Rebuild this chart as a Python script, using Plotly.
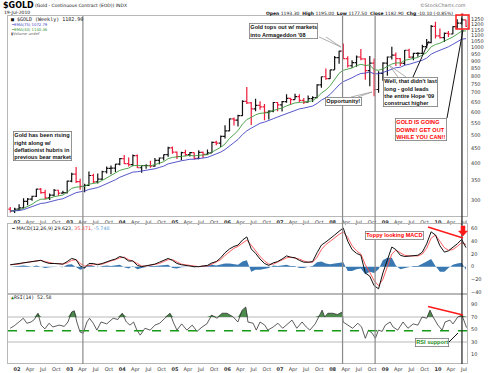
import plotly.graph_objects as go
import math

# ---------------- data ----------------
months = [f"{y}-{m:02d}-15" for y in range(2001, 2011) for m in range(1, 13)
          if (2001, 11) <= (y, m) <= (2010, 7)]

price_open = [279, 275,
    279, 282, 297, 302, 309, 327, 318, 305, 312, 324, 317, 318,
    348, 368, 347, 334, 337, 364, 346, 354, 375, 385, 386, 398,
    416, 400, 397, 426, 387, 394, 394, 392, 410, 418, 429, 453,
    438, 423, 436, 429, 436, 417, 437, 430, 435, 473, 470, 496,
    518, 569, 564, 584, 654, 646, 616, 633, 626, 599, 605, 648,
    636, 652, 669, 663, 679, 659, 650, 668, 673, 745, 794, 783,
    838, 924, 972, 917, 866, 888, 928, 914, 834, 884, 718, 816,
    884, 928, 942, 917, 883, 979, 927, 955, 955, 1008, 1040, 1182,
    1096, 1082, 1118, 1113, 1180, 1213, 1244]
price_high = [284, 282,
    290, 304, 305, 310, 328, 330, 325, 316, 327, 325, 323, 349,
    372, 389, 355, 341, 376, 369, 370, 378, 391, 394, 399, 418,
    428, 420, 430, 430, 395, 398, 409, 418, 420, 430, 457, 458,
    440, 439, 446, 438, 437, 444, 440, 447, 476, 479, 499, 541,
    571, 576, 588, 660, 732, 650, 668, 655, 640, 610, 650, 650,
    656, 691, 673, 695, 692, 672, 685, 681, 749, 795, 848, 840,
    935, 976, 1033, 933, 905, 939, 989, 919, 935, 918, 829, 890,
    932, 1007, 961, 919, 981, 990, 960, 963, 1023, 1070, 1195, 1227,
    1163, 1127, 1140, 1183, 1250, 1265, 1245]
price_low = [272, 271,
    276, 281, 288, 298, 307, 315, 302, 300, 309, 310, 315, 316,
    345, 343, 325, 319, 335, 343, 342, 351, 370, 368, 374, 395,
    399, 391, 392, 386, 372, 384, 387, 390, 398, 410, 422, 432,
    415, 411, 424, 423, 414, 414, 418, 430, 435, 462, 456, 488,
    516, 540, 536, 583, 640, 543, 605, 612, 563, 566, 600, 605,
    604, 647, 636, 663, 651, 640, 648, 650, 670, 728, 775, 781,
    840, 880, 916, 854, 851, 859, 905, 775, 736, 681, 700, 770,
    800, 910, 865, 865, 870, 921, 905, 930, 950, 995, 1035, 1075,
    1075, 1044, 1088, 1111, 1162, 1200, 1177]
price_close = [275, 279,
    282, 297, 302, 309, 327, 318, 305, 312, 324, 317, 318, 348,
    368, 347, 334, 337, 364, 346, 354, 375, 385, 386, 398, 416,
    400, 397, 426, 387, 394, 394, 392, 410, 418, 429, 453, 438,
    423, 436, 429, 436, 417, 437, 430, 435, 473, 470, 496, 518,
    569, 564, 584, 654, 646, 616, 633, 626, 599, 605, 648, 636,
    652, 669, 663, 679, 659, 650, 668, 673, 745, 794, 783, 838,
    924, 972, 917, 866, 888, 928, 914, 834, 884, 718, 816, 884,
    928, 942, 917, 883, 979, 927, 955, 955, 1008, 1040, 1182, 1096,
    1082, 1118, 1113, 1180, 1213, 1244, 1183]

ema40 = [275, 276,
    277, 281, 285, 290, 297, 302, 302, 304, 308, 310, 312, 319,
    329, 332, 333, 334, 340, 341, 344, 350, 357, 363, 370, 379,
    383, 386, 394, 393, 393, 393, 393, 396, 401, 406, 416, 420,
    421, 424, 425, 427, 425, 427, 428, 429, 438, 445, 455, 467,
    488, 503, 519, 546, 566, 576, 588, 595, 596, 598, 608, 614,
    621, 631, 637, 646, 648, 649, 653, 657, 674, 698, 715, 740,
    777, 816, 836, 842, 851, 867, 876, 868, 871, 840, 836, 845,
    862, 878, 886, 885, 904, 909, 918, 925, 942, 961, 1006, 1024,
    1035, 1052, 1064, 1087, 1112, 1139, 1140]
ema75 = [275, 275,
    276, 278, 281, 284, 289, 292, 293, 296, 299, 301, 303, 308,
    314, 318, 320, 322, 326, 328, 331, 336, 341, 346, 352, 359,
    364, 367, 374, 375, 377, 379, 381, 384, 388, 392, 399, 403,
    405, 409, 411, 414, 414, 417, 418, 420, 426, 431, 438, 447,
    460, 472, 484, 503, 518, 529, 541, 550, 555, 561, 570, 578,
    586, 595, 602, 611, 616, 620, 625, 630, 643, 660, 673, 691,
    717, 745, 764, 775, 788, 803, 815, 817, 825, 813, 813, 821,
    833, 845, 853, 856, 870, 876, 885, 892, 905, 920, 949, 965,
    978, 993, 1006, 1026, 1046, 1068, 1073]

macd_line = [3, 4,
    5, 7, 8, 8, 10, 10, 7, 5, 5, 5, 4, 8,
    13, 11, 1, -2, 5, 5, 3, 5, 8, 10, 12, 16,
    14, 9, 9, 2, 0, 1, 2, 4, 7, 10, 13, 10,
    5, 3, 2, 2, 0, 0, 1, 2, 6, 8, 14, 22,
    28, 32, 34, 42, 47, 28, 21, 12, 5, 2, 6, 8,
    12, 17, 15, 14, 10, 7, 7, 8, 22, 34, 39, 44,
    50, 56, 61, 40, 27, 21, 18, -10, -15, -30, -35, -10,
    12, 31, 27, 18, 16, 17, 18, 18, 23, 36, 55, 50,
    33, 23, 25, 30, 36, 43, 30]
macd_signal = [3, 3,
    4, 6, 7, 8, 9, 10, 8, 6, 5, 5, 4, 6,
    10, 11, 5, 1, 2, 4, 4, 4, 7, 9, 11, 14,
    15, 11, 9, 5, 1, 1, 2, 3, 5, 8, 11, 11,
    7, 4, 3, 2, 1, 0, 1, 1, 4, 7, 11, 18,
    24, 29, 32, 37, 42, 34, 25, 16, 9, 4, 4, 7,
    10, 14, 15, 14, 12, 9, 7, 7, 15, 27, 35, 40,
    46, 51, 55, 46, 33, 25, 20, 3, -9, -22, -30, -20,
    0, 20, 26, 22, 18, 17, 17, 17, 20, 29, 45, 50,
    40, 30, 26, 27, 32, 38, 35]
macd_hist = [0, 1,
    1, 2, 1, 0, 2, 0, -2, -1, 0, 0, -1, 3,
    4, -1, -5, -3, 3, 1, -1, 1, 2, 1, 2, 3,
    -1, -3, 1, -4, -2, 0, 1, 1, 2, 2, 3, -2,
    -3, -1, 0, 0, -1, 0, 0, 1, 3, 2, 4, 5,
    5, 4, 3, 8, 10, -8, -5, -5, -4, -2, 2, 1,
    2, 3, 1, 1, -2, -2, 0, 1, 7, 8, 5, 4,
    5, 6, 7, -7, -7, -4, -3, -12, -8, -10, -4, 10,
    14, 14, 2, -4, -2, 0, 1, 1, 4, 8, 12, 1,
    -8, -8, -2, 3, 5, 6, -5]

rsi_dates = ["2001-11-14", "2001-12-13", "2002-01-19", "2002-02-13", "2002-03-10",
    "2002-04-08", "2002-05-01", "2002-05-26", "2002-06-17", "2002-07-13",
    "2002-08-11", "2002-09-06", "2002-10-20", "2002-11-25", "2002-12-20",
    "2003-01-15", "2003-02-02", "2003-02-20", "2003-03-14", "2003-04-05",
    "2003-05-01", "2003-05-19", "2003-06-14", "2003-07-09", "2003-08-07",
    "2003-09-16", "2003-10-30", "2003-12-02", "2004-01-01", "2004-01-30",
    "2004-02-24", "2004-03-20", "2004-04-12", "2004-05-05", "2004-06-07",
    "2004-07-13", "2004-08-15", "2004-09-17", "2004-10-23", "2004-11-28",
    "2004-12-20", "2005-01-15", "2005-02-17", "2005-03-25", "2005-05-01",
    "2005-06-03", "2005-07-09", "2005-08-11", "2005-09-13", "2005-10-20",
    "2005-11-25", "2005-12-28", "2006-02-10", "2006-03-14", "2006-04-13",
    "2006-05-08", "2006-05-23", "2006-06-28", "2006-07-20", "2006-08-15",
    "2006-09-17", "2006-10-08", "2006-11-14", "2006-12-17", "2007-01-19",
    "2007-02-24", "2007-03-25", "2007-04-27", "2007-06-03", "2007-07-02",
    "2007-07-27", "2007-09-02", "2007-10-05", "2007-10-20", "2007-11-07",
    "2007-11-29", "2008-01-01", "2008-02-03", "2008-03-08", "2008-03-14",
    "2008-04-16", "2008-05-19", "2008-06-24", "2008-07-20", "2008-08-15",
    "2008-09-06", "2008-10-02", "2008-10-24", "2008-11-14", "2008-12-10",
    "2009-01-01", "2009-02-03", "2009-02-24", "2009-03-28", "2009-05-04",
    "2009-06-07", "2009-07-13", "2009-08-15", "2009-09-13", "2009-10-16",
    "2009-11-07", "2009-11-29", "2010-01-01", "2010-01-30", "2010-02-20",
    "2010-03-25", "2010-04-16", "2010-05-19", "2010-06-17", "2010-07-19"]
rsi_values = [52, 56, 63, 68, 60,
    62, 66, 76, 57, 51,
    60, 54, 57, 55, 62,
    78, 80, 62, 46, 44,
    62, 68, 60, 49, 62,
    59, 68, 66, 76, 62,
    57, 62, 49, 41, 52,
    49, 57, 60, 68, 76,
    62, 49, 59, 49, 57,
    47, 54, 59, 73, 68,
    76, 76, 70, 62, 81,
    86, 62, 60, 49, 62,
    57, 49, 54, 60, 52,
    59, 65, 52, 62, 54,
    49, 59, 73, 81, 70,
    76, 76, 74, 78, 62,
    57, 52, 60, 54, 36,
    49, 44, 36, 49, 47,
    57, 62, 54, 49, 62,
    52, 59, 57, 70, 68,
    81, 70, 57, 49, 62,
    65, 59, 70, 73, 53]

price_ticks = [300, 350, 400, 450, 500, 550, 600, 650, 700, 750, 800, 850, 900,
               950, 1000, 1050, 1100, 1150, 1200, 1250]
macd_ticks = [-40, -20, 0, 20, 40, 60]
rsi_ticks = [10, 30, 50, 70, 90]
rsi_support_level = 48

date_ticks, date_text = [], []
for yr in range(2002, 2011):
    for m, lab in [(1, None), (4, "Apr"), (7, "Jul"), (10, "Oct")]:
        if (yr, m) > (2010, 7):
            continue
        date_ticks.append(f"{yr}-{m:02d}-01")
        date_text.append(f"<b>{str(yr)[2:]}</b>" if lab is None else lab)

# ---------------- layout helpers ----------------
W, H = 490, 373
def px(x): return x / W
def py(y): return 1 - y / H

XL, XR = 8, 467
x_range = ["2001-10-30", "2010-07-22"]
FONT = "DejaVu Sans"
GRID = "#b8b8b8"

fig = go.Figure()

# price panel
fig.add_trace(go.Ohlc(x=months, open=price_open, high=price_high, low=price_low,
                      close=price_close, xaxis="x", yaxis="y",
                      increasing_line_color="#111111", decreasing_line_color="#ee1c3c",
                      line_width=1.2, tickwidth=0.5, showlegend=False))
fig.add_trace(go.Scatter(x=months, y=ema40, mode="lines", line=dict(color="#3c9a3c", width=0.9),
                         xaxis="x", yaxis="y", showlegend=False))
fig.add_trace(go.Scatter(x=months, y=ema75, mode="lines", line=dict(color="#4444c4", width=0.9),
                         xaxis="x", yaxis="y", showlegend=False))

# MACD panel
fig.add_trace(go.Scatter(x=months, y=macd_hist, mode="lines", line=dict(width=0, color="#3a78b2"),
                         fill="tozeroy", fillcolor="#3a78b2", xaxis="x2", yaxis="y2",
                         showlegend=False))
fig.add_trace(go.Scatter(x=months, y=macd_signal, mode="lines", line=dict(color="#ff4d4d", width=0.9),
                         xaxis="x2", yaxis="y2", showlegend=False))
fig.add_trace(go.Scatter(x=months, y=macd_line, mode="lines", line=dict(color="#111111", width=1.0),
                         xaxis="x2", yaxis="y2", showlegend=False))

# RSI panel
rsi_upper = [max(v, 70) for v in rsi_values]
fig.add_trace(go.Scatter(x=rsi_dates, y=[70] * len(rsi_dates), mode="lines", line=dict(width=0),
                         xaxis="x3", yaxis="y3", showlegend=False))
fig.add_trace(go.Scatter(x=rsi_dates, y=rsi_upper, mode="lines", line=dict(width=0),
                         fill="tonexty", fillcolor="#4d8a4d", xaxis="x3", yaxis="y3",
                         showlegend=False))
fig.add_trace(go.Scatter(x=rsi_dates, y=rsi_values, mode="lines", line=dict(color="#333333", width=0.8),
                         xaxis="x3", yaxis="y3", showlegend=False))

axis_common = dict(showgrid=False, zeroline=False, showline=True, mirror=True,
                   linecolor=GRID, linewidth=1, ticks="", automargin=False,
                   tickfont=dict(family=FONT, size=5, color="#333333"))

fig.update_layout(
    width=W, height=H, margin=dict(l=0, r=0, t=0, b=0, autoexpand=False),
    paper_bgcolor="white", plot_bgcolor="white", showlegend=False,
    xaxis=dict(domain=[px(XL), px(XR)], range=x_range, anchor="y", type="date",
               tickvals=date_ticks, ticktext=date_text, rangeslider=dict(visible=False),
               ticklabelstandoff=1, **axis_common),
    xaxis2=dict(domain=[px(XL), px(XR)], range=x_range, anchor="y2", matches="x",
                type="date", showticklabels=False, **axis_common),
    xaxis3=dict(domain=[px(XL), px(XR)], range=x_range, anchor="y3", matches="x",
                type="date", tickvals=date_ticks, ticktext=date_text,
                ticklabelstandoff=1, **axis_common),
    yaxis=dict(domain=[py(216), py(16)], type="log",
               range=[math.log10(264.4), math.log10(1283)], side="right", anchor="x",
               tickvals=price_ticks, ticktext=[str(v) for v in price_ticks],
               ticklabelstandoff=2, **axis_common),
    yaxis2=dict(domain=[py(294), py(224)], range=[-43.2, 67.4], side="right", anchor="x2",
                tickvals=macd_ticks, ticklabelstandoff=2, **axis_common),
    yaxis3=dict(domain=[py(363), py(294)], range=[-3.6, 106.8], side="right", anchor="x3",
                tickvals=rsi_ticks, ticklabelstandoff=2, **axis_common),
)

shapes = []
# RSI guide lines
for lvl in (70, 30):
    shapes.append(dict(type="line", xref="paper", yref="y3", x0=px(XL), x1=px(XR), y0=lvl, y1=lvl,
                       line=dict(color=GRID, width=1), layer="below"))
shapes.append(dict(type="line", xref="paper", yref="y3", x0=px(XL), x1=px(XR),
                   y0=rsi_support_level, y1=rsi_support_level,
                   line=dict(color="#179a17", width=1.3, dash="dash")))
# vertical marker lines
for d, col in [("2003-04-03", "#8a8a8a"), ("2008-03-10", "#8a8a8a"), ("2008-10-22", "#8a8a8a"),
               ("2010-06-17", "#222222")]:
    shapes.append(dict(type="line", xref="x", yref="paper", x0=d, x1=d, y0=py(364), y1=py(16),
                       line=dict(color=col, width=1.2)))

def seg(x0, y0, x1, y1, color, width=1.0):
    shapes.append(dict(type="line", xref="paper", yref="paper", x0=px(x0), y0=py(y0),
                       x1=px(x1), y1=py(y1), line=dict(color=color, width=width)))

def wedge(a, b, tip, color="#9a9a9a"):
    path = f"M {px(a[0])},{py(a[1])} L {px(tip[0])},{py(tip[1])} L {px(b[0])},{py(b[1])}"
    shapes.append(dict(type="path", xref="paper", yref="paper", path=path,
                       line=dict(color=color, width=0.8)))

wedge((319, 37), (326, 37), (341, 47))
wedge((351, 97), (358, 97), (372, 92))
wedge((398, 77), (406, 77), (389, 65))
seg(413, 77, 429, 41, "#111111", 1.0)
seg(447, 118, 463, 30, "#111111", 1.0)
shapes.append(dict(type="rect", xref="paper", yref="paper", x0=px(456), x1=px(469),
                   y0=py(29), y1=py(15), line=dict(color="#ff1a1a", width=1.5)))
seg(428, 227, 463, 238, "#ff1a1a", 1.5)
seg(428, 306.5, 463, 315, "#ff1a1a", 1.5)
seg(449, 342, 458, 333, "#111111", 1.0)
arrow = (f"M {px(461)},{py(226)} L {px(465)},{py(226)} L {px(465)},{py(231)} "
         f"L {px(467.5)},{py(231)} L {px(463)},{py(236)} L {px(458.5)},{py(231)} "
         f"L {px(461)},{py(231)} Z")
shapes.append(dict(type="path", xref="paper", yref="paper", path=arrow,
                   fillcolor="#ff1a1a", line=dict(color="#ff1a1a", width=0.5)))
fig.update_layout(shapes=shapes)

ann = []
def text(t, x, y, size=5, color="#111111", xanchor="left", yanchor="middle", family=FONT):
    ann.append(dict(text=t, x=px(x), y=py(y), xref="paper", yref="paper", showarrow=False,
                    xanchor=xanchor, yanchor=yanchor,
                    font=dict(family=family, size=size, color=color)))

def box(t, x, y, color="#111111", size=5.6):
    ann.append(dict(text=t, x=px(x), y=py(y), xref="paper", yref="paper", showarrow=False,
                    xanchor="left", yanchor="top", align="left",
                    font=dict(family="Liberation Sans", size=size, color=color),
                    bgcolor="white", bordercolor="#7a7a7a", borderwidth=0.8, borderpad=0.5))

# header
text("<b>$GOLD</b>", 1, 5, size=8, color="#000000")
text("(Gold - Continuous Contract (EOD)) INDX", 33, 5.5, size=4.5)
text("19-Jul-2010", 1.5, 12.5, size=4.5)
text("©StockCharts.com", 468, 5, size=4.8, color="#777777", xanchor="right")
text("<b>Open</b> 1193.30  <b>High</b> 1195.00  <b>Low</b> 1177.50  <b>Close</b> 1182.90  "
     "<b>Chg</b> -10.10 (-0.85%)", 455, 13.5, size=4.5, xanchor="right")
text("▾", 459, 13.5, size=5, color="#dd1111")

# legends
text("■ $GOLD (Weekly) 1182.90", 9, 19.5, size=5, family="DejaVu Sans Mono")
text("━EMA(75) 1072.79", 9, 24.5, size=3.8, color="#3b3bc0")
text("━EMA(40) 1140.46", 9, 29, size=3.8, color="#2f8f2f")
text("▮Volume undef", 9, 33.5, size=3.8, color="#666666")
text("━ MACD(12,26,9) 29.623, <span style='color:#ff4040'>35.371</span>, "
     "<span style='color:#5aa0d8'>-5.748</span>", 8.5, 228.5, size=4.8)
text("<span style='color:#2f7a2f'>▲</span>RSI(14) 52.58", 9, 297.5, size=4.8,
     family="DejaVu Sans Mono")

# callouts
box("<b>Gold has been rising<br>right along w/<br>deflationist hubris in<br>previous bear market</b>",
    13, 131)
box("<b>Gold tops out w/ markets<br>into Armageddon '08</b>", 249, 22.5)
box("<b>Opportunity!</b>", 325, 96.5)
box("<b>Well, that didn't last<br>long - gold leads<br>the entire Hope '09<br>construct higher</b>",
    383, 77)
box("<b>GOLD IS GOING<br>DOWN!! GET OUT<br>WHILE YOU CAN!!</b>", 395, 118, color="#ff0000")
box("<b>Toppy looking MACD</b>", 365, 231, color="#ff0000")
box("<b>RSI support</b>", 415, 338, color="#1a8a1a")

fig.update_layout(annotations=ann)
fig.write_html("out.html", config={"displayModeBar": False},
               post_script="document.body.style.margin='0';")
